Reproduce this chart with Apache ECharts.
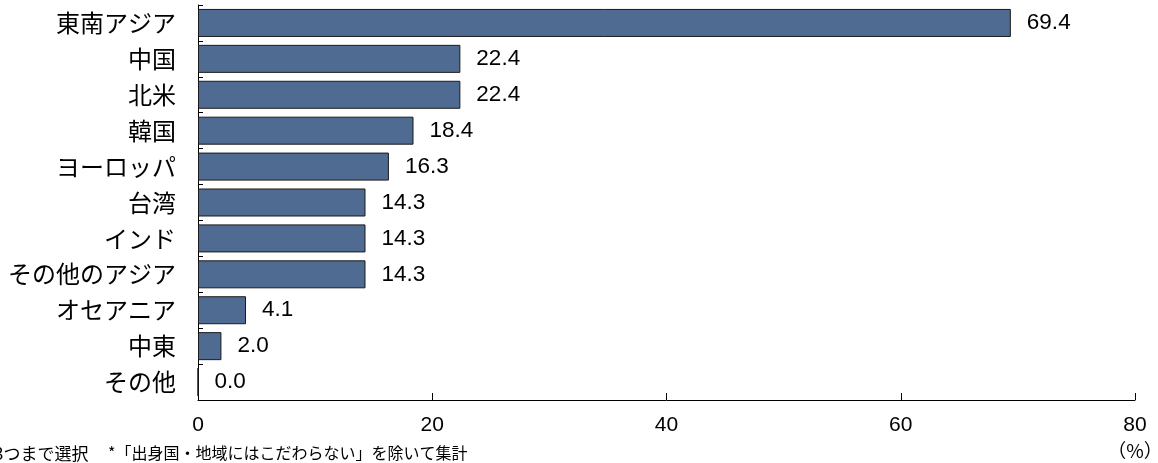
<!DOCTYPE html>
<html><head><meta charset="utf-8">
<script src="https://cdn.jsdelivr.net/npm/echarts@6/dist/echarts.min.js"></script>
<style>html,body{margin:0;padding:0;background:#fff}#c{width:1158px;height:463px}</style>
</head><body><div id="c"></div>
<script>
const categories = ['東南アジア','中国','北米','韓国','ヨーロッパ','台湾','インド','その他のアジア','オセアニア','中東','その他'];
const values = [69.4,22.4,22.4,18.4,16.3,14.3,14.3,14.3,4.1,2.0,0.0];
const xTicks = [0,20,40,60,80];
const unitLabel = '（%）';
const note1 = '※3つまで選択';
const note2 = '*「出身国・地域にはこだわらない」を除いて集計';

const CJK = '"Noto Sans CJK JP","Noto Sans",sans-serif';
const NUM = '"Liberation Sans",sans-serif';
const chart = echarts.init(document.getElementById('c'), null, {renderer:'canvas'});
chart.setOption({
  animation:false,
  grid:{left:198,right:23,top:5,bottom:63,containLabel:false},
  xAxis:{type:'value',min:xTicks[0],max:xTicks[xTicks.length-1],interval:20,
    axisLine:{show:true,lineStyle:{color:'#000',width:1}},
    axisTick:{show:true,inside:true,length:7,lineStyle:{color:'#000'}},
    splitLine:{show:false},
    axisLabel:{margin:15,fontSize:21,color:'#000',fontFamily:NUM}},
  yAxis:{type:'category',inverse:true,data:categories,
    axisLine:{show:true,lineStyle:{color:'#000',width:1}},
    axisTick:{show:true,inside:true,length:5,lineStyle:{color:'#000'}},
    axisLabel:{margin:22,fontSize:24,color:'#000',fontFamily:CJK}},
  series:[{type:'bar',data:values,barCategoryGap:'22%',
    itemStyle:{color:'#4F6B92',borderColor:'#1a1a1a',borderWidth:1},
    label:{show:true,position:'right',distance:16,fontSize:22.5,color:'#000',fontFamily:NUM,
      formatter:p=>p.value.toFixed(1)}}],
  graphic:[
    {type:'text',x:1135,y:441,style:{text:unitLabel,fill:'#000',font:'19px '+CJK,textAlign:'center',textVerticalAlign:'top'}},
    {type:'text',x:-23,y:445,style:{text:note1,fill:'#000',font:'17px '+CJK,textVerticalAlign:'top'}},
    {type:'text',x:108,y:445,style:{text:note2,fill:'#000',font:'16px '+CJK,textVerticalAlign:'top'}}
  ]
});
</script></body></html>
